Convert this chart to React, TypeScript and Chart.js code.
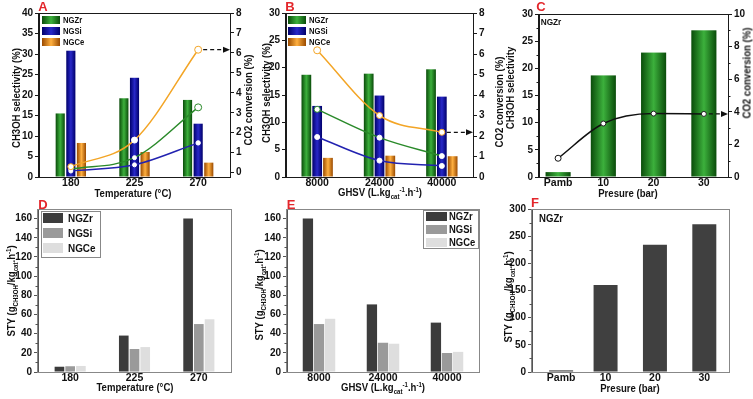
import React, { useEffect, useRef } from 'react';
import { Chart, registerables } from 'chart.js';

Chart.register(...registerables);

const FONT = 'Arial, "Liberation Sans", Helvetica, sans-serif';
Chart.defaults.font.family = FONT;

// ---------------- data ----------------
const tempLabels = ['180', '225', '270'];
const ghsvLabels = ['8000', '24000', '40000'];
const presValues = [1, 10, 20, 30];
const presTickText = ['Pamb', '10', '20', '30'];

// A: selectivity (%) vs temperature, conversion (%) vs temperature
const selTempZr = [15.5, 19.2, 18.8];
const selTempSi = [30.8, 24.2, 13.0];
const selTempCe = [8.3, 6.1, 3.5];
const convTempCe = [0.3, 1.63, 6.16];
const convTempZr = [0.17, 0.75, 3.27];
const convTempSi = [0.08, 0.39, 1.49];

// B: selectivity / conversion vs GHSV
const selGhsvZr = [18.7, 18.9, 19.7];
const selGhsvSi = [13.0, 14.9, 14.7];
const selGhsvCe = [3.5, 3.9, 3.8];
const convGhsvCe = [6.18, 3.0, 2.18];
const convGhsvZr = [3.3, 1.92, 1.02];
const convGhsvSi = [1.95, 0.8, 0.54];

// C: NGZr vs pressure
const selPresZr = [0.9, 18.7, 22.9, 27.0];
const convPresZr = [1.15, 3.28, 3.89, 3.87];

// D: STY vs temperature
const styTempZr = [5.5, 38, 160];
const styTempSi = [6, 24, 50];
const styTempCe = [6.3, 26, 55];

// E: STY vs GHSV
const styGhsvZr = [160, 70.5, 51.5];
const styGhsvSi = [50, 30.5, 19.8];
const styGhsvCe = [55.5, 29.5, 21];

// F: STY vs pressure (NGZr)
const styPresZr = [3, 160, 234, 272];

// tick values
const ticksSel40 = [0, 5, 10, 15, 20, 25, 30, 35, 40];
const ticksSel30 = [0, 5, 10, 15, 20, 25, 30];
const ticksConv8 = [0, 1, 2, 3, 4, 5, 6, 7, 8];
const ticksConv10 = [0, 2, 4, 6, 8, 10];
const ticksSty160 = [0, 20, 40, 60, 80, 100, 120, 140, 160];
const ticksSty300 = [0, 50, 100, 150, 200, 250, 300];

// ---------------- styles ----------------
const GREEN = ['#0a4c0a', '#3cb03c'];
const BLUE = ['#00006a', '#2828c8'];
const ORANGE = ['#9a4a00', '#ffb040'];
const C_ORANGE = '#f3a526';
const C_GREEN = '#2a8a2a';
const C_BLUE = '#2222b0';
const DARK = '#3c3c3c';
const MID = '#9a9a9a';
const LIGHT = '#dedede';
const AXIS = '#1a1a1a';
const AXIS2 = '#555555';

const tickFont = { family: FONT, size: 10, weight: 'bold' as const };

function fixTicks(values: number[]) {
  return (scale: any) => {
    scale.ticks = values.map((v) => ({ value: v }));
  };
}

function yAxis(position: string, min: number, max: number, ticks: number[], width: number, color = AXIS) {
  return {
    type: 'linear',
    position,
    min,
    max,
    afterBuildTicks: fixTicks(ticks),
    afterFit: (s: any) => {
      s.width = width;
    },
    ticks: { font: tickFont, color: '#111', padding: 2, autoSkip: false },
    grid: { drawOnChartArea: false, tickLength: 4, color, tickColor: color, tickWidth: 1 },
    border: { color, width: 1 },
  };
}

function xCat(height: number, color = AXIS) {
  return {
    type: 'category',
    offset: true,
    afterFit: (s: any) => {
      s.height = height;
    },
    ticks: { font: { ...tickFont, size: 10.5 }, color: '#111', padding: 0, maxRotation: 0, autoSkip: false },
    grid: { display: false, drawTicks: false },
    border: { color, width: 1 },
  };
}

function xLin(min: number, max: number, height: number, color = AXIS) {
  return {
    type: 'linear',
    min,
    max,
    offset: false,
    afterBuildTicks: fixTicks(presValues),
    afterFit: (s: any) => {
      s.height = height;
    },
    ticks: {
      font: { ...tickFont, size: 10.5 },
      color: '#111',
      padding: 0,
      maxRotation: 0,
      autoSkip: false,
      callback: (_v: any, i: number) => presTickText[i],
    },
    grid: { display: false, drawTicks: false, offset: false },
    border: { color, width: 1 },
  };
}

function gradBar(label: string, data: any[], grad: string[], cat: number, bar: number) {
  return {
    type: 'bar',
    label,
    data,
    backgroundColor: grad[1],
    gradient: grad,
    categoryPercentage: cat,
    barPercentage: bar,
    order: 2,
    yAxisID: 'y',
  };
}

function solidBar(label: string, data: any[], color: string, cat: number, bar: number) {
  return {
    type: 'bar',
    label,
    data,
    backgroundColor: color,
    categoryPercentage: cat,
    barPercentage: bar,
    order: 2,
    yAxisID: 'y',
  };
}

function curve(data: any[], color: string, radius: number[], borders: string[]) {
  return {
    type: 'line',
    label: '',
    data,
    borderColor: color,
    borderWidth: 1.5,
    cubicInterpolationMode: 'monotone',
    pointRadius: radius,
    pointBackgroundColor: '#ffffff',
    pointBorderColor: borders,
    pointBorderWidth: 1,
    order: 0,
    yAxisID: 'y1',
    fill: false,
  };
}

// ---------------- plugins ----------------
const gradientBars = {
  id: 'gradientBars',
  beforeDatasetDraw(chart: any, args: any) {
    const ds = chart.data.datasets[args.index];
    if (!ds.gradient) return;
    const ctx = chart.ctx;
    const a = chart.chartArea;
    ctx.save();
    ctx.beginPath();
    ctx.rect(a.left, a.top, a.right - a.left, a.bottom - a.top);
    ctx.clip();
    args.meta.data.forEach((el: any) => {
      const { x, y, base, width } = el.getProps(['x', 'y', 'base', 'width'], true);
      const l = x - width / 2;
      const g = ctx.createLinearGradient(l, 0, l + width, 0);
      g.addColorStop(0, ds.gradient[0]);
      g.addColorStop(0.5, ds.gradient[1]);
      g.addColorStop(1, ds.gradient[0]);
      ctx.fillStyle = g;
      ctx.fillRect(l, Math.min(y, base), width, Math.abs(base - y));
    });
    ctx.restore();
    return false;
  },
};

const frame = {
  id: 'frame',
  afterDraw(chart: any, _a: any, o: any) {
    const ctx = chart.ctx;
    const a = chart.chartArea;
    ctx.save();
    ctx.strokeStyle = o.color || '#333';
    ctx.lineWidth = 1;
    ctx.strokeRect(Math.round(a.left) - 0.5, Math.round(a.top) + 0.5, Math.round(a.right - a.left) + 1, Math.round(a.bottom - a.top));
    ctx.restore();
  },
};

const minorTicks = {
  id: 'minorTicks',
  afterDraw(chart: any, _a: any, o: any) {
    const ctx = chart.ctx;
    ctx.save();
    ctx.strokeStyle = o.color || '#333';
    ctx.lineWidth = 1;
    (o.axes || []).forEach((id: string) => {
      const s = chart.scales[id];
      if (!s) return;
      const t = s.ticks;
      for (let i = 0; i < t.length - 1; i++) {
        const v = (t[i].value + t[i + 1].value) / 2;
        const y = Math.round(s.getPixelForValue(v)) + 0.5;
        const x = s.position === 'left' ? s.right : s.left;
        const dx = s.position === 'left' ? -2.5 : 2.5;
        ctx.beginPath();
        ctx.moveTo(x, y);
        ctx.lineTo(x + dx, y);
        ctx.stroke();
      }
    });
    ctx.restore();
  },
};

const arrow = {
  id: 'arrow',
  afterDatasetsDraw(chart: any, _a: any, o: any) {
    if (o.dataset == null) return;
    const meta = chart.getDatasetMeta(o.dataset);
    const pt = meta.data[meta.data.length - 1];
    if (!pt) return;
    const ctx = chart.ctx;
    const x1 = chart.chartArea.right;
    const y = pt.y;
    const x0 = pt.x + 5;
    ctx.save();
    ctx.strokeStyle = '#111';
    ctx.fillStyle = '#111';
    ctx.lineWidth = 1.2;
    ctx.setLineDash([4, 3]);
    ctx.beginPath();
    ctx.moveTo(x0, y);
    ctx.lineTo(x1 - 6, y);
    ctx.stroke();
    ctx.setLineDash([]);
    ctx.beginPath();
    ctx.moveTo(x1, y);
    ctx.lineTo(x1 - 7, y - 3);
    ctx.lineTo(x1 - 7, y + 3);
    ctx.closePath();
    ctx.fill();
    ctx.restore();
  },
};

const boxLegend = {
  id: 'boxLegend',
  afterDraw(chart: any, _a: any, o: any) {
    if (!o.sw) return;
    const ctx = chart.ctx;
    const { left, top } = chart.chartArea;
    ctx.save();
    if (o.box) {
      ctx.fillStyle = '#fff';
      ctx.fillRect(left + o.box[0], top + o.box[1], o.box[2], o.box[3]);
      ctx.strokeStyle = '#888';
      ctx.lineWidth = 1;
      ctx.strokeRect(left + o.box[0] + 0.5, top + o.box[1] + 0.5, o.box[2], o.box[3]);
    }
    const bars = chart.data.datasets.filter((d: any) => d.type === 'bar');
    bars.forEach((ds: any, i: number) => {
      const x = left + o.x;
      const y = top + o.y + i * o.row;
      if (ds.gradient) {
        const g = ctx.createLinearGradient(x, 0, x + o.sw, 0);
        g.addColorStop(0, ds.gradient[0]);
        g.addColorStop(0.5, ds.gradient[1]);
        g.addColorStop(1, ds.gradient[0]);
        ctx.fillStyle = g;
      } else {
        ctx.fillStyle = ds.backgroundColor;
      }
      ctx.fillRect(x, y, o.sw, o.sh);
      ctx.fillStyle = '#111';
      ctx.font = `bold ${o.size}px ${FONT}`;
      ctx.textBaseline = 'middle';
      ctx.textAlign = 'left';
      ctx.save();
      ctx.translate(x + o.sw + o.gap, y + o.sh / 2 + 0.5);
      ctx.scale(0.9, 1);
      ctx.fillText(ds.label, 0, 0);
      ctx.restore();
    });
    ctx.restore();
  },
};

const allPlugins = [gradientBars, frame, minorTicks, arrow, boxLegend];

function baseOptions(padTop: number, padRight: number, extra: any, scales: any) {
  return {
    responsive: false,
    animation: false,
    events: [],
    layout: { padding: { top: padTop, right: padRight, left: 0, bottom: 0 } },
    plugins: {
      legend: { display: false },
      tooltip: { enabled: false },
      title: { display: false },
      ...extra,
    },
    scales,
  };
}

// ---------------- chart configs ----------------
const smallLegend = { x: 3, y: 3, sw: 18, sh: 8, row: 11, gap: 3, size: 8.5 };

function configA() {
  return {
    type: 'bar',
    data: {
      labels: tempLabels,
      datasets: [
        gradBar('NGZr', selTempZr, GREEN, 0.5, 0.86),
        gradBar('NGSi', selTempSi, BLUE, 0.5, 0.86),
        gradBar('NGCe', selTempCe, ORANGE, 0.5, 0.86),
        curve(convTempCe, C_ORANGE, [3, 3, 3.5], [C_ORANGE, '#ffffff', C_ORANGE]),
        curve(convTempZr, C_GREEN, [2, 2, 3.5], ['#ffffff', '#ffffff', C_GREEN]),
        curve(convTempSi, C_BLUE, [2, 2, 2.2], ['#ffffff', '#ffffff', '#ffffff']),
      ],
    },
    options: baseOptions(
      13,
      0,
      { frame: { color: AXIS }, arrow: { dataset: 3 }, boxLegend: smallLegend, minorTicks: { axes: [] } },
      {
        x: xCat(18),
        y: yAxis('left', 0, 40, ticksSel40, 39),
        y1: yAxis('right', -0.22, 8, ticksConv8, 20),
      }
    ),
    plugins: allPlugins,
  };
}

function configB() {
  return {
    type: 'bar',
    data: {
      labels: ghsvLabels,
      datasets: [
        gradBar('NGZr', selGhsvZr, GREEN, 0.52, 0.9),
        gradBar('NGSi', selGhsvSi, BLUE, 0.52, 0.9),
        gradBar('NGCe', selGhsvCe, ORANGE, 0.52, 0.9),
        curve(convGhsvCe, C_ORANGE, [3.5, 3, 3], [C_ORANGE, C_ORANGE, C_ORANGE]),
        curve(convGhsvZr, C_GREEN, [3, 2.5, 2.5], [C_GREEN, '#ffffff', '#ffffff']),
        curve(convGhsvSi, C_BLUE, [2.5, 2.5, 2.5], ['#ffffff', '#ffffff', '#ffffff']),
      ],
    },
    options: baseOptions(
      13,
      0,
      { frame: { color: AXIS }, arrow: { dataset: 3 }, boxLegend: { ...smallLegend, x: 2 }, minorTicks: { axes: [] } },
      {
        x: xCat(18),
        y: yAxis('left', 0, 30, ticksSel30, 36),
        y1: yAxis('right', 0, 8, ticksConv8, 27),
      }
    ),
    plugins: allPlugins,
  };
}

function configC() {
  return {
    type: 'bar',
    data: {
      datasets: [
        gradBar('NGZr', presValues.map((x, i) => ({ x, y: selPresZr[i] })), GREEN, 1, 0.555),
        curve(
          presValues.map((x, i) => ({ x, y: convPresZr[i] })),
          '#111111',
          [3, 2.5, 2.5, 2.5],
          ['#111111', '#222222', '#222222', '#222222']
        ),
      ],
    },
    options: baseOptions(
      14,
      0,
      { frame: { color: AXIS }, arrow: { dataset: 1 }, boxLegend: {}, minorTicks: { axes: ['y', 'y1'], color: AXIS } },
      {
        x: xLin(-2.8, 34.8, 18),
        y: yAxis('left', 0, 30, ticksSel30, 39),
        y1: yAxis('right', 0, 10, ticksConv10, 25),
      }
    ),
    plugins: allPlugins,
  };
}

function configD() {
  return {
    type: 'bar',
    data: {
      labels: tempLabels,
      datasets: [
        solidBar('NGZr', styTempZr, DARK, 0.5, 0.9),
        solidBar('NGSi', styTempSi, MID, 0.5, 0.9),
        solidBar('NGCe', styTempCe, LIGHT, 0.5, 0.9),
      ],
    },
    options: baseOptions(
      14,
      19,
      {
        frame: { color: '#888' },
        boxLegend: { x: 5, y: 4, sw: 20, sh: 10, row: 15, gap: 5, size: 11, box: [3, 2, 59, 46] },
        minorTicks: { axes: ['y'], color: AXIS2 },
      },
      {
        x: xCat(27, AXIS2),
        y: yAxis('left', 0, 170, ticksSty160, 38, AXIS2),
      }
    ),
    plugins: allPlugins,
  };
}

function configE() {
  return {
    type: 'bar',
    data: {
      labels: ghsvLabels,
      datasets: [
        solidBar('NGZr', styGhsvZr, DARK, 0.52, 0.93),
        solidBar('NGSi', styGhsvSi, MID, 0.52, 0.93),
        solidBar('NGCe', styGhsvCe, LIGHT, 0.52, 0.93),
      ],
    },
    options: baseOptions(
      14,
      21,
      {
        frame: { color: '#888' },
        boxLegend: { x: 139, y: 3, sw: 21, sh: 9, row: 13, gap: 2, size: 10.5, box: [136, 1, 55, 38] },
        minorTicks: { axes: ['y'], color: AXIS2 },
      },
      {
        x: xCat(27, AXIS2),
        y: yAxis('left', 0, 170, ticksSty160, 37, AXIS2),
      }
    ),
    plugins: allPlugins,
  };
}

function configF() {
  return {
    type: 'bar',
    data: {
      datasets: [solidBar('NGZr', presValues.map((x, i) => ({ x, y: styPresZr[i] })), '#404040', 1, 0.54)],
    },
    options: baseOptions(
      14,
      24,
      { frame: { color: '#888' }, boxLegend: {}, minorTicks: { axes: ['y'], color: AXIS2 } },
      {
        x: xLin(-4.9, 35, 27, AXIS2),
        y: yAxis('left', 0, 300, ticksSty300, 32, AXIS2),
      }
    ),
    plugins: allPlugins,
  };
}

// ---------------- components ----------------
type PanelProps = { left: number; top: number; width: number; height: number; make: () => any };

function ChartPanel({ left, top, width, height, make }: PanelProps) {
  const ref = useRef<HTMLCanvasElement>(null);
  useEffect(() => {
    const chart = new Chart(ref.current as HTMLCanvasElement, make() as any);
    return () => chart.destroy();
  }, []);
  return (
    <canvas
      ref={ref}
      width={width}
      height={height}
      style={{ position: 'absolute', left, top, width, height, display: 'block' }}
    />
  );
}

type TitleProps = { x: number; y: number; rot?: boolean; size?: number; children: any; color?: string; sx?: number };

function Title({ x, y, rot, size = 11, children, color = '#111', sx = 0.87 }: TitleProps) {
  return (
    <div
      style={{
        position: 'absolute',
        left: x,
        top: y,
        transform: `translate(-50%, -50%) ${rot ? 'rotate(-90deg)' : ''} scaleX(${sx})`,
        font: `bold ${size}px ${FONT}`,
        whiteSpace: 'nowrap',
        color,
        lineHeight: 1,
      }}
    >
      {children}
    </div>
  );
}

const Sub = ({ children }: any) => (
  <span style={{ fontSize: 7, position: 'relative', top: 3 }}>{children}</span>
);
const Sup = ({ children }: any) => (
  <span style={{ fontSize: 7, position: 'relative', top: -4 }}>{children}</span>
);

const RED = '#e3262b';

export default function App() {
  const sty = (
    <>
      STY (g<Sub>CH3OH</Sub>/kg<Sub>cat</Sub>.h<Sup>-1</Sup>)
    </>
  );
  const ghsv = (
    <>
      GHSV (L.kg<Sub>cat</Sub>
      <Sup>-1</Sup>.h<Sup>-1</Sup>)
    </>
  );
  return (
    <div
      style={{
        position: 'absolute',
        left: 0,
        top: 0,
        width: 753,
        height: 399,
        background: '#ffffff',
        overflow: 'hidden',
        fontFamily: FONT,
      }}
    >
      <ChartPanel left={0} top={0} width={250} height={195} make={configA} />
      <ChartPanel left={250} top={0} width={250} height={195} make={configB} />
      <ChartPanel left={500} top={0} width={253} height={195} make={configC} />
      <ChartPanel left={0} top={195} width={250} height={204} make={configD} />
      <ChartPanel left={250} top={195} width={250} height={204} make={configE} />
      <ChartPanel left={500} top={195} width={253} height={204} make={configF} />

      <Title x={15.5} y={98} rot>CH3OH selectivity (%)</Title>
      <Title x={248} y={100} rot>CO2 conversion (%)</Title>
      <Title x={133} y={193}>Temperature (°C)</Title>

      <Title x={266} y={93} rot>CH3OH selectivity (%)</Title>
      <Title x={499} y={102} rot>CO2 conversion (%)</Title>
      <Title x={380} y={192}>{ghsv}</Title>

      <Title x={510} y={88} rot>CH3OH selectivity</Title>
      <Title x={747} y={73} rot>CO2 conversion (%)</Title>
      <Title x={628} y={193}>Presure (bar)</Title>

      <Title x={11} y={291} rot>{sty}</Title>
      <Title x={135} y={387}>Temperature (°C)</Title>

      <Title x={259} y={295} rot>{sty}</Title>
      <Title x={383} y={387}>{ghsv}</Title>

      <Title x={508} y={297} rot>{sty}</Title>
      <Title x={630} y={388}>Presure (bar)</Title>

      <Title x={551} y={22} size={9.5}>NGZr</Title>
      <Title x={551} y={218} size={11}>NGZr</Title>

      <Title x={43} y={6} size={13} color={RED} sx={1}>A</Title>
      <Title x={290} y={6} size={13} color={RED} sx={1}>B</Title>
      <Title x={541} y={6} size={13} color={RED} sx={1}>C</Title>
      <Title x={43} y={204} size={13} color={RED} sx={1}>D</Title>
      <Title x={291} y={204} size={13} color={RED} sx={1}>E</Title>
      <Title x={535} y={202} size={13} color={RED} sx={1}>F</Title>
    </div>
  );
}
